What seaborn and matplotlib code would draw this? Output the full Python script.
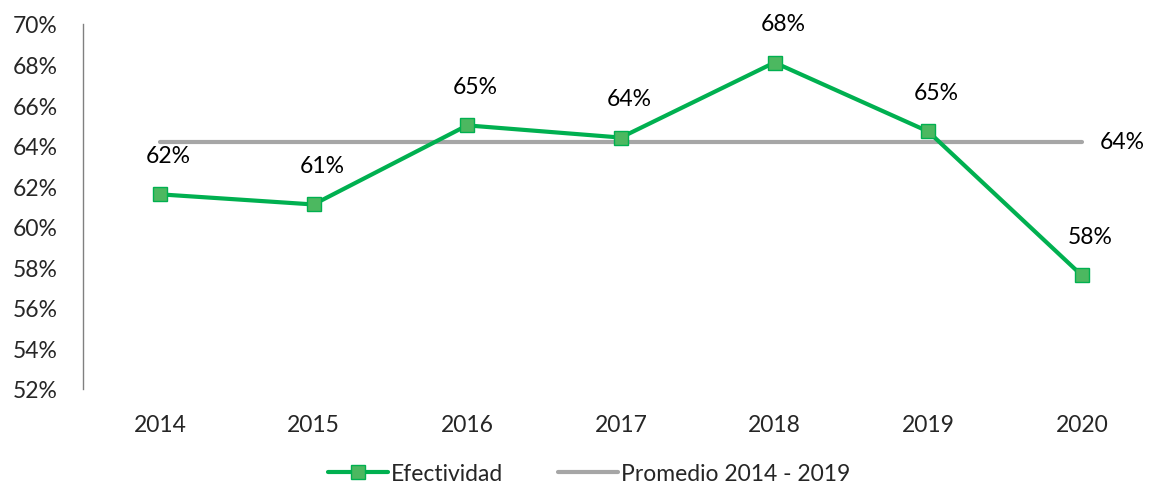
import matplotlib
matplotlib.use("Agg")
import matplotlib.pyplot as plt
import seaborn as sns
import pandas as pd
from matplotlib.lines import Line2D

years = ["2014", "2015", "2016", "2017", "2018", "2019", "2020"]
efectividad = [61.6, 61.1, 65.0, 64.4, 68.1, 64.7, 57.6]
efectividad_labels = ["62%", "61%", "65%", "64%", "68%", "65%", "58%"]
promedio = [64.2] * 7
promedio_label = "64%"
yticks = [52, 54, 56, 58, 60, 62, 64, 66, 68, 70]

sns.set_theme(style="white")
plt.rcParams["font.family"] = ["Lato", "DejaVu Sans"]

GREEN = "#00B050"
MARK = "#4CB860"
GREY = "#A6A6A6"
FS = 16.5

df = pd.DataFrame({"x": range(len(years)), "ef": efectividad, "prom": promedio})

fig = plt.figure(figsize=(11.51, 4.89), dpi=100)
ax = fig.add_axes([83/1151, 1-390/489, 1-83/1151, (390-25)/489])

sns.lineplot(data=df, x="x", y="prom", ax=ax, color=GREY, linewidth=3, zorder=2)
sns.lineplot(data=df, x="x", y="ef", ax=ax, color=GREEN, linewidth=3, marker="s",
             markersize=10, markerfacecolor=MARK, markeredgecolor=GREEN,
             markeredgewidth=1, zorder=3)

for i, (v, lab) in enumerate(zip(efectividad, efectividad_labels)):
    ax.annotate(lab, (i, v), xytext=(6, 28), textcoords="offset points",
                ha="center", va="center", fontsize=FS, color="black")
ax.annotate(promedio_label, (len(years)-1, promedio[-1]), xytext=(13, 0),
            textcoords="offset points", ha="left", va="center", fontsize=FS, color="black")

ax.set_ylim(52, 70)
ax.set_xlim(-0.5, 6.45)
ax.set_yticks(yticks)
ax.set_yticklabels([f"{t}%" for t in yticks], fontsize=FS)
ax.set_xticks(range(len(years)))
ax.set_xticklabels(years, fontsize=FS)
ax.tick_params(axis="y", length=0, pad=18)
ax.tick_params(axis="x", length=0, pad=18)
ax.set_xlabel("")
ax.set_ylabel("")
for s in ["top", "right", "bottom"]:
    ax.spines[s].set_visible(False)
ax.spines["left"].set_color("#808080")
ax.spines["left"].set_linewidth(1)

handles = [
    Line2D([], [], color=GREEN, linewidth=3, marker="s", markersize=10,
           markerfacecolor=MARK, markeredgecolor=GREEN),
    Line2D([], [], color=GREY, linewidth=3),
]
fig.legend(handles, ["Efectividad", "Promedio 2014 - 2019"], loc="lower center",
           bbox_to_anchor=(0.512, -0.035), ncol=2, frameon=False, fontsize=FS,
           handlelength=2.6, handletextpad=0.15, columnspacing=2.4)

fig.savefig("out.png", dpi=100)
